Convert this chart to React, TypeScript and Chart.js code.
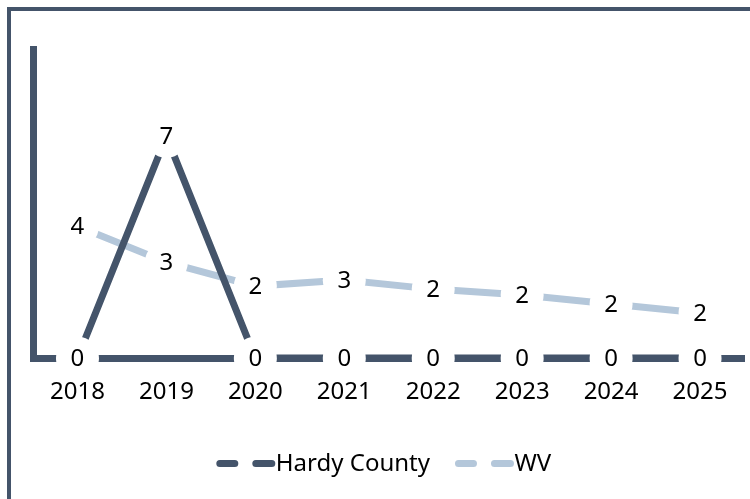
import React, { useEffect, useRef } from "react";
import { Chart, registerables } from "chart.js";

Chart.register(...registerables);

// ---- data ----
const categories = ["2018", "2019", "2020", "2021", "2022", "2023", "2024", "2025"];
const hardyCounty = [0, 7.4, 0, 0, 0, 0, 0, 0];
const wv = [4.4, 3.2, 2.4, 2.6, 2.3, 2.1, 1.8, 1.5];
const seriesNames = ["Hardy County", "WV"];
const yMin = 0;
const yMax = 10.3;

// ---- styles ----
const DARK = "#44546a";
const LIGHT = "#b4c7da";
const FONT = "'Noto Sans', 'DejaVu Sans', sans-serif";
const FONT_SIZE = 24;

const pointLabelPlugin = {
  id: "pointLabels",
  afterDatasetsDraw(chart: any) {
    const ctx = chart.ctx;
    ctx.save();
    ctx.font = `${FONT_SIZE}px ${FONT}`;
    ctx.fillStyle = "#000";
    ctx.textAlign = "center";
    ctx.textBaseline = "middle";
    chart.data.datasets.forEach((ds: any, i: number) => {
      const meta = chart.getDatasetMeta(i);
      meta.data.forEach((pt: any, j: number) => {
        ctx.fillText(String(Math.round(ds.data[j])), pt.x, pt.y + 1);
      });
    });
    ctx.restore();
  },
};

const lineLegendPlugin = {
  id: "lineLegend",
  afterDraw(chart: any) {
    const ctx = chart.ctx;
    const area = chart.chartArea;
    const y = chart.height - 35.5;
    ctx.save();
    ctx.font = `${FONT_SIZE}px ${FONT}`;
    const symW = 59.5;
    const itemGap = 25;
    const items = chart.data.datasets.map((ds: any) => ({
      text: ds.label as string,
      color: ds.borderColor as string,
      w: ctx.measureText(ds.label).width as number,
    }));
    const total =
      items.reduce((s: number, it: any) => s + symW + it.w, 0) + itemGap * (items.length - 1);
    let x = (area.left + area.right) / 2 - 5 - total / 2;
    items.forEach((it: any) => {
      ctx.strokeStyle = it.color;
      ctx.lineWidth = 7;
      ctx.lineCap = "round";
      ctx.beginPath();
      ctx.moveTo(x + 3.5, y);
      ctx.lineTo(x + 18.5, y);
      ctx.moveTo(x + 39.5, y);
      ctx.lineTo(x + 55.5, y);
      ctx.stroke();
      ctx.fillStyle = "#000";
      ctx.textAlign = "left";
      ctx.textBaseline = "middle";
      ctx.fillText(it.text, x + symW, y + 1);
      x += symW + it.w + itemGap;
    });
    ctx.restore();
  },
};

function makeDataset(label: string, data: number[], color: string) {
  return {
    label,
    data,
    borderColor: color,
    backgroundColor: color,
    borderWidth: 7,
    borderCapStyle: "butt" as const,
    borderJoinStyle: "miter" as const,
    tension: 0,
    pointRadius: 21.5,
    pointHoverRadius: 21.5,
    pointBackgroundColor: "#ffffff",
    pointBorderColor: "#ffffff",
    pointBorderWidth: 0,
    clip: 4,
  };
}

export default function App() {
  const ref = useRef<HTMLCanvasElement>(null);

  useEffect(() => {
    if (!ref.current) return;
    const chart = new Chart(ref.current, {
      type: "line",
      data: {
        labels: categories,
        datasets: [
          makeDataset(seriesNames[0], hardyCounty, DARK),
          makeDataset(seriesNames[1], wv, LIGHT),
        ],
      },
      options: {
        responsive: false,
        animation: false,
        events: [],
        layout: { autoPadding: false, padding: { top: 38.5, left: 22, right: 5.5, bottom: 72.2 } },
        plugins: {
          legend: { display: false },
          tooltip: { enabled: false },
        },
        scales: {
          x: {
            type: "category",
            offset: true,
            grid: { display: false, drawTicks: false },
            border: { display: true, color: DARK, width: 7 },
            ticks: {
              color: "#000",
              font: { family: FONT, size: FONT_SIZE },
              padding: 20,
              maxRotation: 0,
              autoSkip: false,
            },
          },
          y: {
            min: yMin,
            max: yMax,
            grid: { display: false, drawTicks: false },
            border: { display: true, color: DARK, width: 7 },
            ticks: { display: false },
          },
        },
      },
      plugins: [pointLabelPlugin, lineLegendPlugin],
    } as any);
    return () => chart.destroy();
  }, []);

  return (
    <div
      style={{
        position: "fixed",
        left: 7,
        top: 7,
        width: 739,
        height: 488,
        borderTop: `4px solid ${DARK}`,
        borderLeft: `4px solid ${DARK}`,
        background: "#fff",
      }}
    >
      <canvas ref={ref} width={739} height={488} style={{ display: "block", width: 739, height: 488 }} />
    </div>
  );
}
